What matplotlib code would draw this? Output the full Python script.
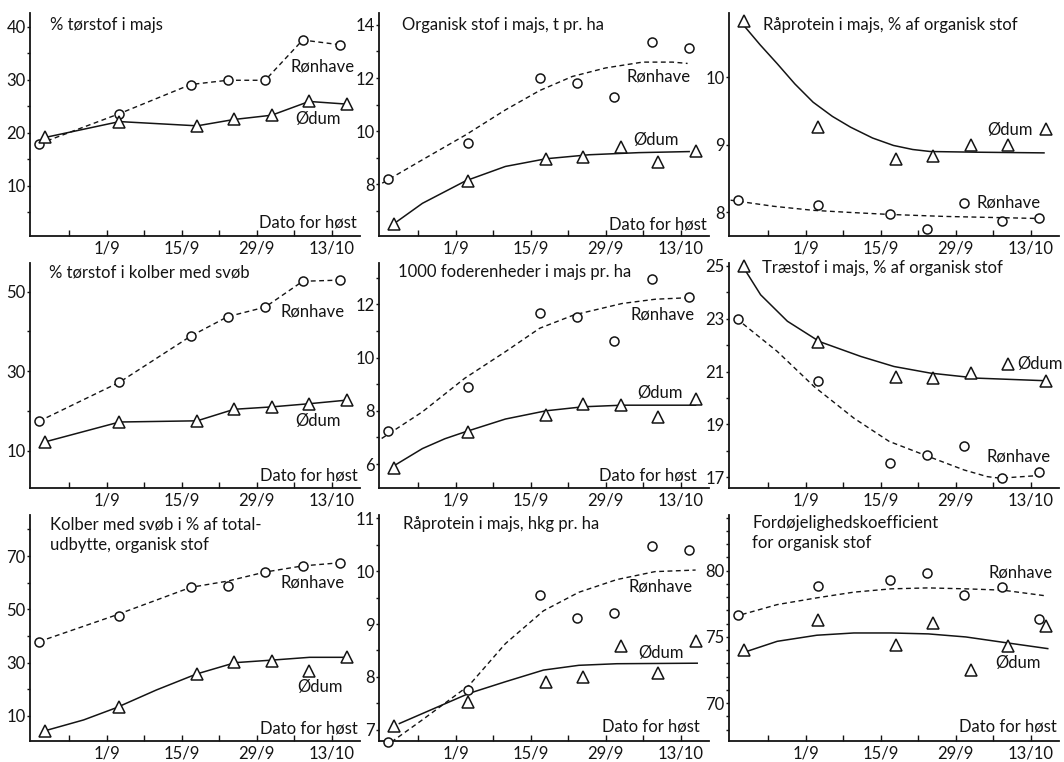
import matplotlib.pyplot as plt

plt.rcParams['font.family'] = ['Lato', 'DejaVu Sans']

W, H = 1064, 762

# =========================
# DATA (days counted from 1/9)
# =========================
ronhave_days = [-12.6, 2.4, 15.7, 22.6, 29.6, 36.6, 43.6]
odum_days = [-11.5, 2.4, 16.9, 23.8, 30.8, 37.8, 44.8]

date_ticks = [0, 14, 28, 42]
date_labels = ["1/9", "15/9", "29/9", "13/10"]
week_ticks = [-7, 7, 21, 35]

# 1. % tørstof i majs
ts_majs_r = [17.9, 23.6, 29.1, 29.9, 29.9, 37.5, 36.6]
ts_majs_o = [19.1, 22.1, 21.3, 22.5, 23.3, 25.9, 25.4]

# 2. Organisk stof i majs, t pr. ha
org_r = [8.2, 9.55, 12.0, 11.8, 11.3, 13.36, 13.13]
org_o = [6.5, 8.13, 8.96, 9.04, 9.42, 8.82, 9.27]
org_r_cx = [-13.7, -6.2, 1.9, 9.3, 15.7, 21.8, 28.0, 34.9, 40.5, 43.3]
org_r_cy = [8.04, 8.92, 9.86, 10.8, 11.53, 12.06, 12.38, 12.6, 12.6, 12.55]
org_o_cx = [-11.6, -6.2, 1.9, 9.3, 16.9, 24.9, 34.2, 43.6]
org_o_cy = [6.5, 7.28, 8.13, 8.67, 8.96, 9.11, 9.19, 9.23]

# 3. Råprotein i majs, % af organisk stof
rp_pct_r = [8.18, 8.11, 7.98, 7.75, 8.14, 7.87, 7.91]
rp_pct_o = [10.83, 9.27, 8.79, 8.84, 9.0, 9.0, 9.24]
rp_pct_r_cx = [-14.0, -6.0, 1.4, 8.0, 15.4, 25.8, 43.0]
rp_pct_r_cy = [8.18, 8.09, 8.03, 8.0, 7.97, 7.94, 7.91]
rp_pct_o_cx = [-11.8, -8.5, -5.3, -2.0, 1.4, 5.0, 8.4, 12.5, 16.4, 20.0, 23.3, 32.0, 44.5]
rp_pct_o_cy = [10.79, 10.48, 10.2, 9.9, 9.63, 9.42, 9.26, 9.1, 8.99, 8.93, 8.9, 8.89, 8.88]

# 4. % tørstof i kolber med svøb
ts_kolb_r = [17.4, 27.2, 38.8, 43.7, 46.1, 52.6, 52.9]
ts_kolb_o = [12.2, 17.2, 17.5, 20.4, 21.0, 21.8, 22.7]

# 5. 1000 foderenheder i majs pr. ha
fe_r = [7.25, 8.88, 11.68, 11.53, 10.62, 12.94, 12.26]
fe_o = [5.86, 7.21, 7.84, 8.24, 8.21, 7.77, 8.46]
fe_r_cx = [-13.8, -6.2, 1.7, 9.3, 15.7, 22.1, 31.1, 37.3, 43.9]
fe_r_cy = [6.96, 7.96, 9.22, 10.22, 11.1, 11.6, 12.03, 12.19, 12.25]
fe_o_cx = [-11.3, -6.2, -2.0, 1.8, 9.3, 16.9, 23.8, 31.1, 44.8]
fe_o_cy = [5.96, 6.58, 6.95, 7.21, 7.69, 8.0, 8.15, 8.21, 8.21]

# 6. Træstof i majs, % af organisk stof
trae_r = [22.99, 20.66, 17.54, 17.83, 18.17, 16.97, 17.22]
trae_o = [25.0, 22.13, 20.81, 20.75, 20.96, 21.29, 20.66]
trae_r_cx = [-12.9, -5.3, 1.6, 9.0, 15.6, 22.4, 29.6, 33.9, 36.3, 43.4]
trae_r_cy = [23.0, 21.76, 20.43, 19.24, 18.36, 17.83, 17.28, 17.03, 16.97, 17.07]
trae_o_cx = [-11.5, -8.4, -3.4, 2.6, 10.3, 16.5, 23.3, 32.0, 45.1]
trae_o_cy = [24.9, 23.9, 22.9, 22.13, 21.57, 21.19, 20.94, 20.75, 20.65]

# 7. Kolber med svøb i % af totaludbytte
kolb_r = [37.9, 47.6, 58.25, 58.9, 63.9, 66.25, 67.5]
kolb_o = [4.5, 13.25, 25.75, 30.4, 30.75, 27.0, 32.25]
kolb_r_cx = [-12.6, 1.4, 15.7, 22.6, 29.6, 36.6, 43.7]
kolb_r_cy = [37.9, 47.6, 58.25, 60.6, 64.0, 66.3, 67.5]
kolb_o_cx = [-11.4, -4.3, 1.7, 9.3, 16.8, 24.0, 31.2, 37.9, 45.0]
kolb_o_cy = [4.5, 8.5, 13.0, 19.75, 25.75, 30.0, 31.0, 32.0, 32.0]

# 8. Råprotein i majs, hkg pr. ha
rp_hkg_r = [6.77, 7.75, 9.54, 9.11, 9.2, 10.47, 10.39]
rp_hkg_o = [7.08, 7.53, 7.91, 7.99, 8.58, 8.08, 8.68]
rp_hkg_r_cx = [-12.0, -6.2, 2.5, 9.3, 16.4, 23.0, 30.1, 37.2, 44.8]
rp_hkg_r_cy = [6.77, 7.19, 7.84, 8.63, 9.25, 9.6, 9.84, 9.99, 10.02]
rp_hkg_o_cx = [-10.5, 2.5, 9.3, 16.4, 23.0, 30.1, 45.1]
rp_hkg_o_cy = [7.12, 7.69, 7.91, 8.13, 8.22, 8.25, 8.26]

# 9. Fordøjelighedskoefficient for organisk stof
ford_r = [76.69, 78.88, 79.26, 79.84, 78.15, 78.78, 76.36]
ford_o = [73.99, 76.31, 74.42, 76.06, 72.53, 74.35, 75.86]
ford_r_cx = [-11.9, -5.3, 2.1, 9.0, 16.0, 22.9, 29.9, 36.8, 44.5]
ford_r_cy = [76.69, 77.44, 77.95, 78.38, 78.63, 78.7, 78.63, 78.53, 78.12]
ford_o_cx = [-10.9, -5.3, 2.1, 9.0, 16.0, 22.9, 29.9, 36.8, 45.2]
ford_o_cy = [73.92, 74.67, 75.13, 75.3, 75.3, 75.23, 75.0, 74.6, 74.12]

# =========================
# LAYOUT
# =========================
fig = plt.figure(figsize=(W / 100, H / 100), dpi=100)
INK = "#141414"
FS = 12

col_left = [30, 379, 729]
row_span = [(13, 236), (263, 488), (515, 741)]
AX_W = 330


def px_axes(col, row):
    left = col_left[col]
    top, bottom = row_span[row]
    return fig.add_axes([left / W, 1 - bottom / H, AX_W / W, (bottom - top) / H])


def fig_text(x, y, s, ha="left"):
    fig.text(x / W, 1 - y / H, s, ha=ha, va="center", fontsize=FS, color=INK)


def setup(ax, ylim, major, minor):
    ax.set_xlim(-14.3, 47.3)
    ax.set_ylim(*ylim)
    for side in ["top", "right"]:
        ax.spines[side].set_visible(False)
    for side in ["left", "bottom"]:
        ax.spines[side].set_linewidth(1.3)
        ax.spines[side].set_color(INK)
    ax.set_xticks(date_ticks)
    ax.set_xticklabels(date_labels)
    ax.set_xticks(week_ticks, minor=True)
    ax.set_yticks(major)
    ax.set_yticks(minor, minor=True)
    ax.tick_params(axis="x", which="both", direction="in", length=4, width=1,
                   pad=3, labelsize=FS, colors=INK)
    ax.tick_params(axis="y", which="both", direction="out", length=2.5, width=1,
                   pad=0.5, labelsize=FS, colors=INK)
    ax.patch.set_alpha(0)


def points(ax, r, o):
    ax.plot(ronhave_days, r, linestyle="none", marker="o", ms=6.5, mfc="white",
            mec=INK, mew=1.1, zorder=5, clip_on=False)
    ax.plot(odum_days, o, linestyle="none", marker="^", ms=8, mfc="white",
            mec=INK, mew=1.1, zorder=5, clip_on=False)


def dashed(ax, x, y):
    ax.plot(x, y, color=INK, lw=1.0, dashes=(3.5, 2.5), zorder=3)


def solid(ax, x, y):
    ax.plot(x, y, color=INK, lw=1.1, zorder=3)


# panel 1
ax = px_axes(0, 0)
setup(ax, (0.5, 42.6), [10, 20, 30, 40], [5, 15, 25, 35])
dashed(ax, ronhave_days, ts_majs_r)
solid(ax, odum_days, ts_majs_o)
points(ax, ts_majs_r, ts_majs_o)
fig_text(50, 25, "% tørstof i majs")
fig_text(290, 66, "Rønhave")
fig_text(295, 119, "Ødum")
fig_text(357, 223, "Dato for høst", ha="right")

# panel 2
ax = px_axes(1, 0)
setup(ax, (6.05, 14.45), [8, 10, 12, 14], [7, 9, 11, 13])
dashed(ax, org_r_cx, org_r_cy)
solid(ax, org_o_cx, org_o_cy)
points(ax, org_r, org_o)
fig_text(402, 25, "Organisk stof i majs, t pr. ha")
fig_text(627, 77, "Rønhave")
fig_text(633, 140, "Ødum")
fig_text(707, 225, "Dato for høst", ha="right")

# panel 3
ax = px_axes(2, 0)
setup(ax, (7.65, 10.95), [8, 9, 10], [])
dashed(ax, rp_pct_r_cx, rp_pct_r_cy)
solid(ax, rp_pct_o_cx, rp_pct_o_cy)
points(ax, rp_pct_r, rp_pct_o)
fig_text(763, 25, "Råprotein i majs, % af organisk stof")
fig_text(987, 130, "Ødum")
fig_text(977, 203, "Rønhave")

# panel 4
ax = px_axes(0, 1)
setup(ax, (0.6, 57.2), [10, 30, 50], [20, 40])
dashed(ax, ronhave_days, ts_kolb_r)
solid(ax, odum_days, ts_kolb_o)
points(ax, ts_kolb_r, ts_kolb_o)
fig_text(49, 272, "% tørstof i kolber med svøb")
fig_text(280, 312, "Rønhave")
fig_text(295, 421, "Ødum")
fig_text(358, 475, "Dato for høst", ha="right")

# panel 5
ax = px_axes(1, 1)
setup(ax, (5.1, 13.55), [6, 8, 10, 12], [7, 9, 11, 13])
dashed(ax, fe_r_cx, fe_r_cy)
solid(ax, fe_o_cx, fe_o_cy)
points(ax, fe_r, fe_o)
fig_text(398, 272, "1000 foderenheder i majs pr. ha")
fig_text(630, 315, "Rønhave")
fig_text(637, 393, "Ødum")
fig_text(697, 475, "Dato for høst", ha="right")

# panel 6
ax = px_axes(2, 1)
setup(ax, (16.6, 25.1), [17, 19, 21, 23, 25], [18, 20, 22, 24])
dashed(ax, trae_r_cx, trae_r_cy)
solid(ax, trae_o_cx, trae_o_cy)
points(ax, trae_r, trae_o)
fig_text(762, 268, "Træstof i majs, % af organisk stof")
fig_text(1017, 364, "Ødum")
fig_text(987, 456, "Rønhave")

# panel 7
ax = px_axes(0, 2)
setup(ax, (0.6, 85.4), [10, 30, 50, 70], [20, 40, 60, 80])
dashed(ax, kolb_r_cx, kolb_r_cy)
solid(ax, kolb_o_cx, kolb_o_cy)
points(ax, kolb_r, kolb_o)
fig_text(50, 524, "Kolber med svøb i % af total-")
fig_text(50, 545, "udbytte, organisk stof")
fig_text(280, 582, "Rønhave")
fig_text(297, 687, "Ødum")
fig_text(358, 729, "Dato for høst", ha="right")

# panel 8
ax = px_axes(1, 2)
setup(ax, (6.79, 11.06), [7, 8, 9, 10, 11], [7.5, 8.5, 9.5, 10.5])
dashed(ax, rp_hkg_r_cx, rp_hkg_r_cy)
solid(ax, rp_hkg_o_cx, rp_hkg_o_cy)
points(ax, rp_hkg_r, rp_hkg_o)
fig_text(403, 524, "Råprotein i majs, hkg pr. ha")
fig_text(628, 586, "Rønhave")
fig_text(638, 653, "Ødum")
fig_text(700, 727, "Dato for høst", ha="right")

# panel 9
ax = px_axes(2, 2)
setup(ax, (67.15, 84.2), [70, 75, 80], [68, 69, 71, 72, 73, 74, 76, 77, 78, 79, 81, 82, 83, 84])
dashed(ax, ford_r_cx, ford_r_cy)
solid(ax, ford_o_cx, ford_o_cy)
points(ax, ford_r, ford_o)
fig_text(752, 523, "Fordøjelighedskoefficient")
fig_text(752, 543, "for organisk stof")
fig_text(988, 573, "Rønhave")
fig_text(995, 663, "Ødum")
fig_text(1057, 727, "Dato for høst", ha="right")

fig.savefig("out.png", dpi=100)
